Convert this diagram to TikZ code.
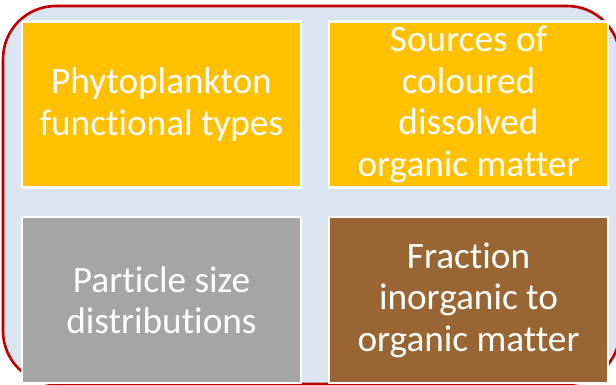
\documentclass[tikz,border=0pt]{standalone}
\usepackage{fontspec}
\setmainfont[Ligatures=NoCommon]{Carlito}
\definecolor{frame}{HTML}{C00000}
\definecolor{panel}{HTML}{DCE6F2}
\definecolor{gold}{HTML}{FFC000}
\definecolor{stone}{HTML}{A5A5A5}
\definecolor{soil}{HTML}{996633}
\tikzset{
	tile/.style={draw=white, line width=0.6pt, minimum width=2.79cm, minimum height=1.66cm,
		text=white, align=center, inner sep=0pt, font=\fontsize{10.6}{11.8}\selectfont}
}
\begin{document}
\begin{tikzpicture}
		\useasboundingbox (0,0) rectangle (6.16,3.85);
		% background panel
		\draw[frame, fill=panel, line width=0.75pt, rounded corners=0.53cm] (0.03,3.79) rectangle (6.20,0.01);
		% the four tiles
		\node[tile, fill=gold] (phyto) at (1.615,2.805) {Phytoplankton\\functional types};
		\node[tile, fill=gold] (cdom) at (4.685,2.805) {Sources of\\coloured\\dissolved\\organic matter};
		\node[tile, fill=stone] (psd) at (1.615,0.85) {Particle size\\distributions};
		\node[tile, fill=soil] (frac) at (4.685,0.85) {Fraction\\inorganic to\\organic matter};
		
	\end{tikzpicture}
\end{document}
